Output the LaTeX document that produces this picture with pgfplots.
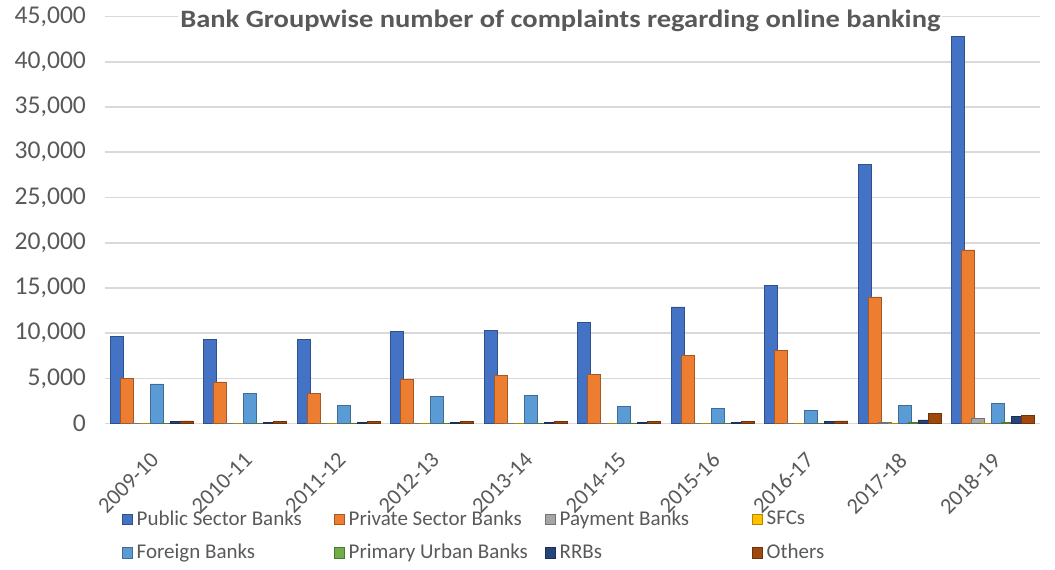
\documentclass[border=0pt]{standalone}
\usepackage{fontspec}
\setmainfont{Carlito}
\usepackage{pgfplots}
\pgfplotsset{compat=1.18}
\definecolor{cPub}{HTML}{4472C4}
\definecolor{cPri}{HTML}{ED7D31}
\definecolor{cPay}{HTML}{A5A5A5}
\definecolor{cSFC}{HTML}{FFC000}
\definecolor{cFor}{HTML}{5B9BD5}
\definecolor{cUrb}{HTML}{70AD47}
\definecolor{cRRB}{HTML}{264478}
\definecolor{cOth}{HTML}{9E480E}
\definecolor{txt}{HTML}{595959}
\definecolor{grd}{HTML}{D9D9D9}
\newcommand{\lgE}[2][96.5pt]{\makebox[#1][l]{#2}}
\begin{document}
\begin{tikzpicture}
\begin{axis}[
  scale only axis,
  clip=false,
  width=467.5pt, height=203.5pt,
  ybar=-1.5pt, bar width=6.5pt,
  xmin=-0.5, xmax=9.5,
  ymin=0, ymax=45000,
  ytick={0,5000,...,45000},
  xtick={0,...,9},
  xticklabels={2009-10,2010-11,2011-12,2012-13,2013-14,2014-15,2015-16,2016-17,2017-18,2018-19},
  x tick label style={rotate=45, anchor=north east, font=\fontsize{11.2}{12}\selectfont, text=txt, xshift=-7pt, yshift=-5.5pt},
  y tick label style={font=\fontsize{12.8}{14}\selectfont, text=txt},
  /pgf/number format/.cd, 1000 sep={,}, assume math mode=true,
  /pgfplots/.cd,
  scaled y ticks=false,
  axis line style={draw=none},
  major tick length=0pt,
  ymajorgrids, grid style={grd, line width=0.8pt},
  yticklabel style={xshift=-6pt},
  legend columns=4,
  legend style={draw=none, fill=none, at={(axis description cs:0.011,-0.193)}, anchor=north west,
    font=\fontsize{10.5}{11}\selectfont, text=txt,
    /tikz/every even column/.append style={column sep=0pt},
    row sep=4pt},
  legend image code/.code={\fill[#1] (0pt,-2.6pt) rectangle (5.2pt,2.6pt);},
  every axis plot/.append style={line width=0.3pt},
]
\addplot[fill=cPub, draw=cPub!70!black] coordinates {(0,9600) (1,9300) (2,9300) (3,10200) (4,10300) (5,11200) (6,12900) (7,15300) (8,28700) (9,42800)};
\addplot[fill=cPri, draw=cPri!70!black] coordinates {(0,5000) (1,4600) (2,3300) (3,4900) (4,5300) (5,5400) (6,7500) (7,8100) (8,14000) (9,19200)};
\addplot[fill=cPay, draw=cPay!70!black] coordinates {(0,60) (1,60) (2,60) (3,60) (4,60) (5,60) (6,60) (7,60) (8,100) (9,600)};
\addplot[fill=cSFC, draw=cSFC!70!black] coordinates {(0,40) (1,40) (2,40) (3,40) (4,40) (5,40) (6,40) (7,40) (8,40) (9,60)};
\addplot[fill=cFor, draw=cFor!70!black] coordinates {(0,4400) (1,3300) (2,2000) (3,3000) (4,3100) (5,1900) (6,1700) (7,1500) (8,2000) (9,2200)};
\addplot[fill=cUrb, draw=cUrb!70!black] coordinates {(0,60) (1,60) (2,60) (3,60) (4,60) (5,60) (6,60) (7,60) (8,100) (9,150)};
\addplot[fill=cRRB, draw=cRRB!70!black] coordinates {(0,200) (1,150) (2,150) (3,150) (4,150) (5,150) (6,150) (7,200) (8,400) (9,800)};
\addplot[fill=cOth, draw=cOth!70!black] coordinates {(0,300) (1,250) (2,250) (3,250) (4,250) (5,250) (6,250) (7,300) (8,1100) (9,900)};
\legend{\lgE{Public Sector Banks},\lgE[96pt]{Private Sector Banks},\lgE[94pt]{Payment Banks},\lgE[60pt]{SFCs},
        \lgE{Foreign Banks},\lgE[96pt]{Primary Urban Banks},\lgE[94pt]{RRBs},\lgE[60pt]{Others}}
\node[font=\bfseries\fontsize{12.5}{14}\selectfont, text=txt, fill=white, inner sep=1pt] at (axis description cs:0.487,0.99) {\scalebox{1.14}[1]{Bank Groupwise number of complaints regarding online banking}};
\end{axis}
\path ([shift={(-52.5pt,-71pt)}]current axis.south west) rectangle ([shift={(7.5pt,7.5pt)}]current axis.north east);
\end{tikzpicture}
\end{document}
